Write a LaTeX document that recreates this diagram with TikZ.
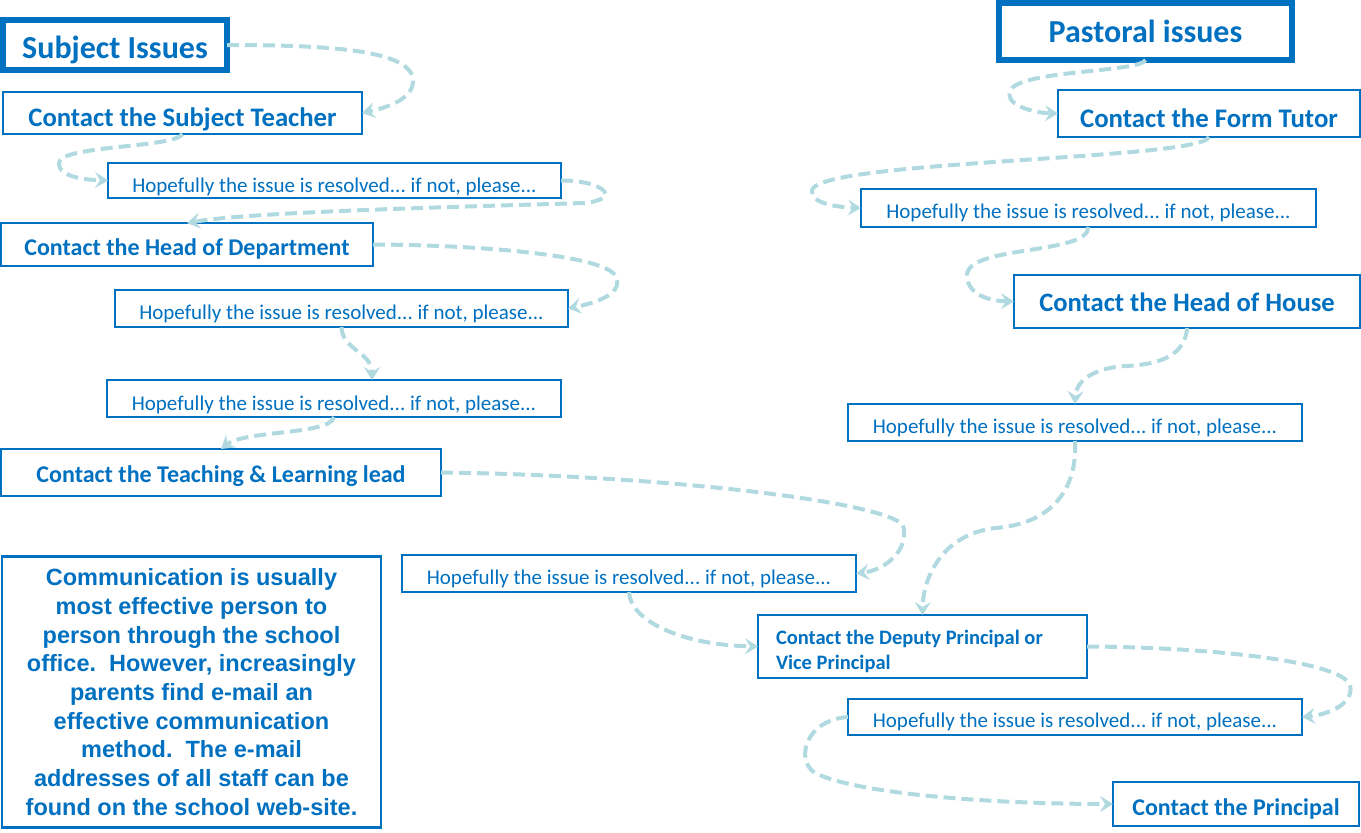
\documentclass[tikz,border=0pt]{standalone}
\usepackage{fontspec}
\setmainfont{Carlito}
\newfontfamily\arialfont{Liberation Sans}
\usetikzlibrary{arrows.meta,calc}
\definecolor{boxblue}{RGB}{0,112,192}
\definecolor{arrowteal}{RGB}{176,218,224}
\frenchspacing
% adds extra height #1 above the text, which lowers it by #1/2 inside its box
\newcommand\lowtxt[2]{\raisebox{0pt}[\dimexpr\height+#1\relax][\depth]{#2}}
\tikzset{
  box/.style={draw=boxblue, line width=2.5pt, fill=white, text=boxblue, inner sep=0pt, outer sep=0pt},
  thickbox/.style={box, line width=6pt},
  hopetext/.style={font=\fontsize{21}{25}\selectfont},
  conn/.style={draw=arrowteal, line width=4pt, dash pattern=on 12pt off 6pt,
    -{Stealth[length=13pt,width=16pt,inset=5pt]}},
}
\newcommand\hope{Hopefully the issue is resolved... if not, please...}
\begin{document}
\begin{tikzpicture}[x=1pt,y=-1pt]
\useasboundingbox (0,0) rectangle (1361,833);
% left column
\node[thickbox, minimum width=224pt, minimum height=50pt, font=\bfseries\fontsize{32}{36}\selectfont] (SI) at (115,45) {\lowtxt{10pt}{Subject Issues}};
\node[box, minimum width=359pt, minimum height=42pt, font=\bfseries\fontsize{26.7}{30}\selectfont] (ST) at (182.5,113) {\lowtxt{12pt}{Contact the Subject Teacher}};
\node[box, hopetext, minimum width=453pt, minimum height=35pt] (H1) at (334.5,180.5) {\lowtxt{12pt}{\hope}};
\node[box, minimum width=372pt, minimum height=43pt, font=\bfseries\fontsize{24}{28}\selectfont] (HoD) at (187,244.5) {\lowtxt{8pt}{Contact the Head of Department}};
\node[box, hopetext, minimum width=453pt, minimum height=37pt] (H2) at (341.5,308.5) {\lowtxt{10pt}{\hope}};
\node[box, hopetext, minimum width=454pt, minimum height=37pt] (H3) at (334,398.5) {\lowtxt{12pt}{\hope}};
\node[box, minimum width=440pt, minimum height=47pt, font=\bfseries\fontsize{24}{28}\selectfont] (TL) at (221,472.5) {\lowtxt{7pt}{Contact the Teaching \& Learning lead}};
\node[box, minimum width=379pt, minimum height=271pt, align=center, font=\arialfont\bfseries\fontsize{23.5}{28.7}\selectfont] (CM) at (191.5,692) {Communication is usually\\most effective person to\\person through the school\\office.\ \ However, increasingly\\parents find e-mail an\\effective communication\\method.\ \ The e-mail\\addresses of all staff can be\\found on the school web-site.};
\node[box, hopetext, minimum width=454pt, minimum height=37pt] (H4) at (629,573.5) {\lowtxt{10pt}{\hope}};
% right column
\node[thickbox, minimum width=293pt, minimum height=57pt, font=\bfseries\fontsize{32}{36}\selectfont] (PI) at (1145.5,31.5) {Pastoral issues};
\node[box, minimum width=302pt, minimum height=47pt, font=\bfseries\fontsize{26.8}{30}\selectfont] (FT) at (1209,113.5) {\lowtxt{9pt}{Contact the Form Tutor}};
\node[box, hopetext, minimum width=455pt, minimum height=38pt] (R1) at (1088.5,208) {\lowtxt{10pt}{\hope}};
\node[box, minimum width=346pt, minimum height=53pt, font=\bfseries\fontsize{26.6}{30}\selectfont] (HoH) at (1187,301.5) {\lowtxt{2pt}{Contact the Head of House}};
\node[box, hopetext, minimum width=454pt, minimum height=37pt] (R2) at (1075,422.5) {\lowtxt{10pt}{\hope}};
\node[box, minimum width=329pt, minimum height=63pt, font=\bfseries\fontsize{20.5}{25}\selectfont] (DP) at (922.5,646.5) {\lowtxt{10pt}{\parbox[c]{293pt}{\raggedright Contact the Deputy Principal or\\Vice Principal}}};
\node[box, hopetext, minimum width=454pt, minimum height=36pt] (R3) at (1075,717) {\lowtxt{10pt}{\hope}};
\node[box, minimum width=246pt, minimum height=44pt, font=\bfseries\fontsize{24}{28}\selectfont] (PR) at (1236,804) {\lowtxt{9pt}{Contact the Principal}};
% connectors
\draw[conn] (SI.east) .. controls (330,45) and (415,50) .. (413,82) .. controls (412,100) and (385,108) .. (ST.east);
\draw[conn] (ST.south) .. controls (175,148) and (60,145) .. (59,163) .. controls (58,178) and (90,180) .. (H1.west);
\draw[conn] (H1.east) .. controls (600,180) and (625,198) .. (585,203) .. controls (450,207) and (250,212) .. (HoD.north);
\draw[conn] (HoD.east) .. controls (480,245) and (600,255) .. (615,275) .. controls (625,292) and (600,302) .. (H2.east);
\draw[conn] (H2.south) .. controls (342,350) and (372,352) .. ($(H3.north)+(38,0)$);
\draw[conn] (H3.south) .. controls (330,435) and (245,430) .. (TL.north);
\draw[conn] (TL.east) .. controls (650,475) and (880,500) .. (903,525) .. controls (910,550) and (885,570) .. (H4.east);
\draw[conn] (H4.south) .. controls (630,620) and (680,645) .. (DP.west);
\draw[conn] (PI.south) .. controls (1140,72) and (1030,70) .. (1012,88) .. controls (1000,105) and (1035,113) .. (FT.west);
\draw[conn] (FT.south) .. controls (1200,160) and (820,160) .. (812,190) .. controls (810,203) and (835,207) .. (R1.west);
\draw[conn] (R1.south) .. controls (1088,255) and (968,245) .. (967,275) .. controls (967,295) and (990,301) .. (HoH.west);
\draw[conn] (HoH.south) .. controls (1185,360) and (1150,365) .. (1125,366) .. controls (1095,368) and (1076,380) .. (R2.north);
\draw[conn] (R2.south) .. controls (1078,500) and (1040,525) .. (995,528) .. controls (940,535) and (923,580) .. (DP.north);
\draw[conn] (DP.east) .. controls (1200,647) and (1340,660) .. (1350,685) .. controls (1355,705) and (1325,715) .. (R3.east);
\draw[conn] (R3.west) .. controls (805,720) and (795,760) .. (815,773) .. controls (860,795) and (1000,804) .. (PR.west);
\end{tikzpicture}
\end{document}
